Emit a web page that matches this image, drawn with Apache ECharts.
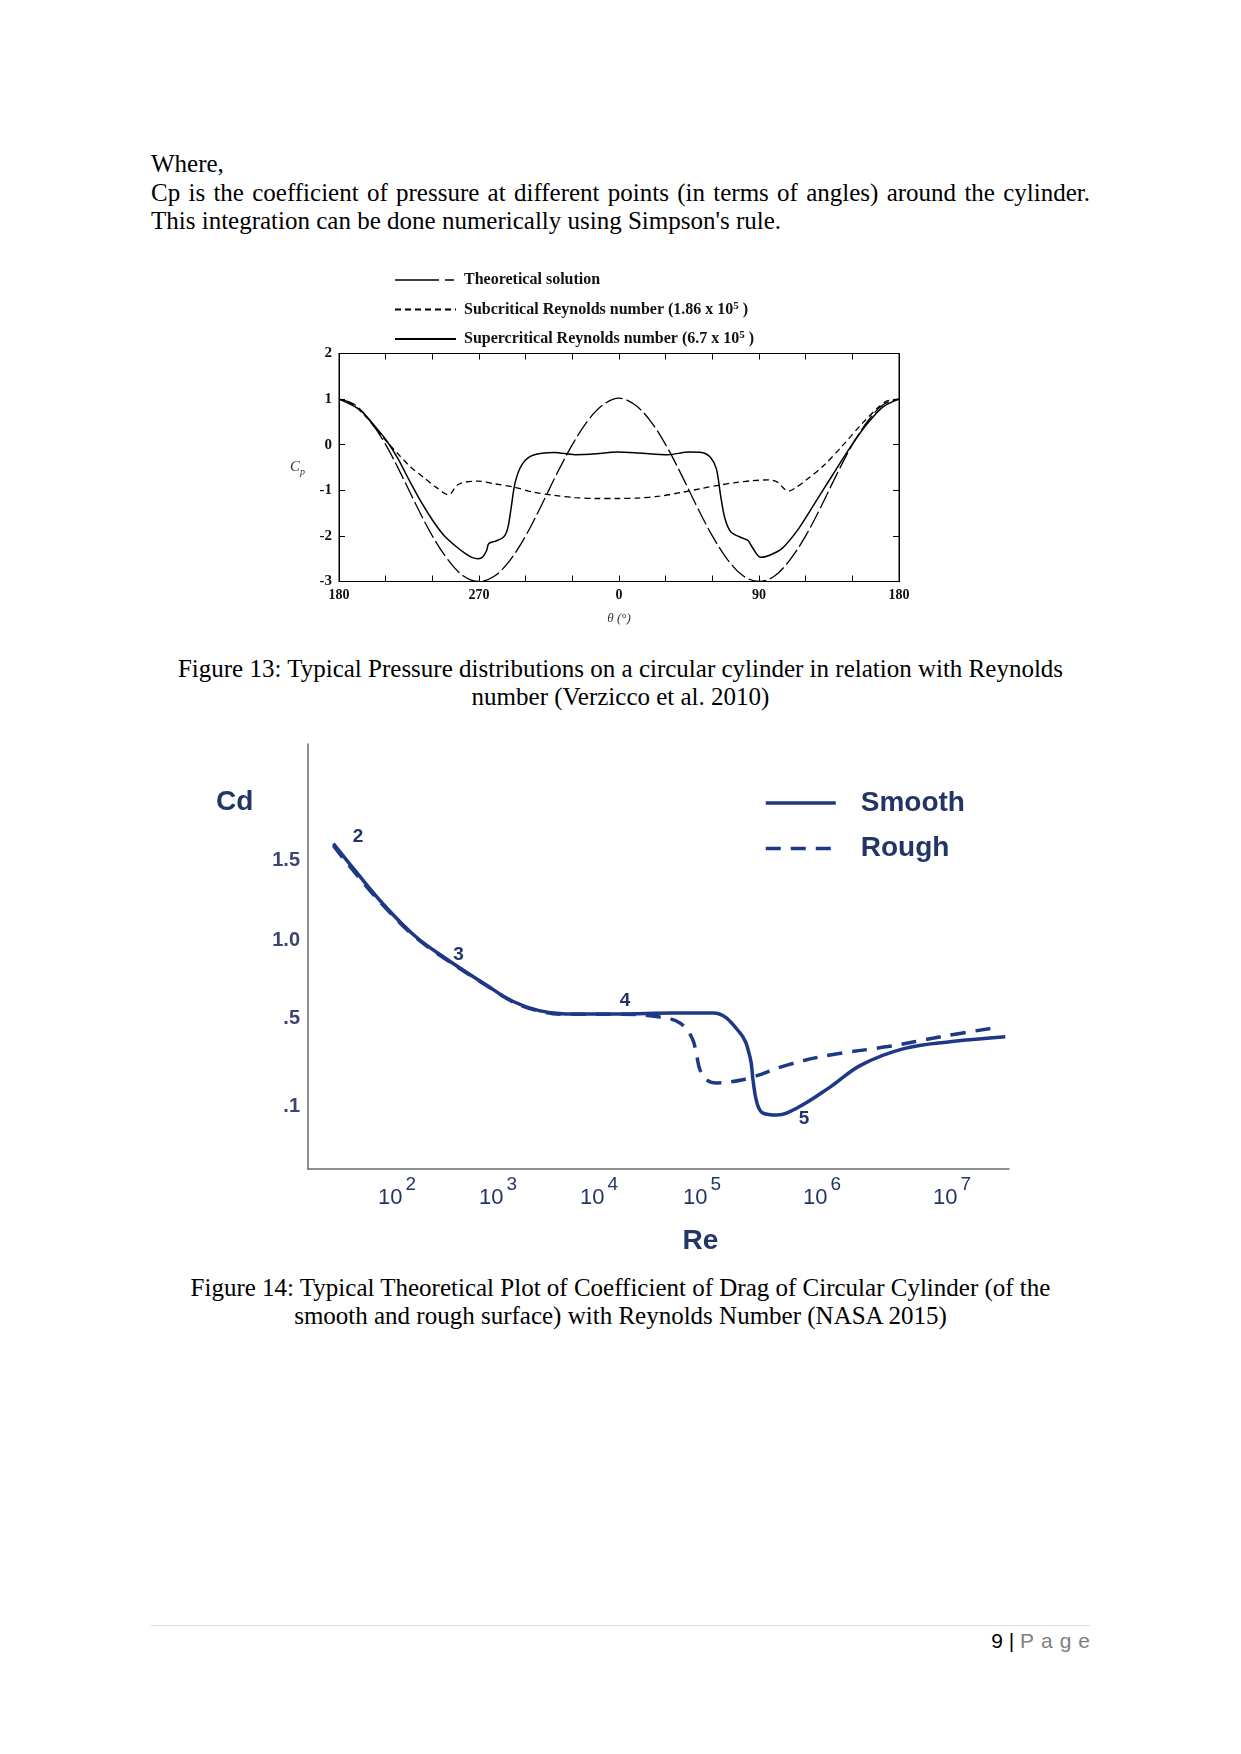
<!DOCTYPE html>
<html><head><meta charset="utf-8">
<script src="https://cdn.jsdelivr.net/npm/echarts@6/dist/echarts.min.js"></script>
<style>
html,body{margin:0;padding:0;background:#fff;}
body{width:1241px;height:1754px;position:relative;overflow:hidden;}
.t{position:absolute;font-family:"Liberation Serif","Times New Roman",serif;font-size:25px;color:#000;white-space:nowrap;line-height:28px;}
.j{left:151px;width:939px;text-align:justify;text-align-last:justify;}
.c{left:151px;width:939px;text-align:center;}
#c1{position:absolute;left:0;top:250px;width:1241px;height:390px;}
#c2{position:absolute;left:0;top:720px;width:1241px;height:550px;}
.foot{position:absolute;left:151px;width:939px;top:1625px;border-top:1px solid #dcdcdc;}
.pg{position:absolute;right:151px;top:1628px;font-family:"Liberation Sans",Arial,sans-serif;font-size:21px;line-height:26px;color:#000;white-space:nowrap;}
</style></head><body>
<div class="t" style="left:151px;top:150px">Where,</div>
<div class="t j" style="top:179px">Cp is the coefficient of pressure at different points (in terms of angles) around the cylinder.</div>
<div class="t" style="left:151px;top:207px">This integration can be done numerically using Simpson's rule.</div>
<div id="c1"></div>
<div class="t c" style="top:655px">Figure 13: Typical Pressure distributions on a circular cylinder in relation with Reynolds</div>
<div class="t c" style="top:683px">number (Verzicco et al. 2010)</div>
<div id="c2"></div>
<div class="t c" style="top:1274px">Figure 14: Typical Theoretical Plot of Coefficient of Drag of Circular Cylinder (of the</div>
<div class="t c" style="top:1302px">smooth and rough surface) with Reynolds Number (NASA 2015)</div>
<div class="foot"></div>
<div class="pg">9 | <span style="color:#7f7f7f;letter-spacing:7px;margin-right:-7px">Page</span></div>
<script>
// ---------- Figure 13 data (sweep position along axis in degrees: 0 -> theta=180, 90 -> 270, 180 -> 0, 270 -> 90, 360 -> 180)
const thetaTickLabels = ['180', '270', '0', '90', '180'];
const theoAngles = [0,10,20,30,40,50,60,70,80,90,100,110,120,130,140,150,160,170,180,190,200,210,220,230,240,250,260,270,280,290,300,310,320,330,340,350,360];
const theoCp = [1.0,0.88,0.52,0.0,-0.65,-1.35,-2.0,-2.52,-2.88,-3.0,-2.88,-2.53,-2.0,-1.34,-0.64,0.0,0.53,0.88,1.02,0.88,0.53,0.0,-0.65,-1.35,-2.0,-2.53,-2.88,-3.0,-2.88,-2.52,-2.0,-1.35,-0.65,0.0,0.52,0.88,1.0];
const subAngles = [0,8.1,16.3,24.4,29.8,37.9,46.1,54.2,62.3,70.5,75.9,81.3,89.5,100.3,112.5,124.7,138.2,151.8,165.3,178.9,192.4,206,219.6,233.1,244,254.8,265.7,276.5,281.9,286,288.7,292.8,300.9,311.8,324,336.2,347,352.4,360];
const subCp = [1.0,0.9,0.65,0.32,0.1,-0.2,-0.49,-0.71,-0.93,-1.1,-0.89,-0.82,-0.8,-0.86,-0.93,-1.04,-1.11,-1.16,-1.18,-1.18,-1.17,-1.13,-1.05,-0.96,-0.89,-0.83,-0.79,-0.77,-0.82,-0.96,-1.02,-0.96,-0.76,-0.45,-0.01,0.46,0.83,0.96,1.0];
const supAngles = [0,13.6,24.4,31.2,38,44.7,52.9,61,67.8,75.9,81.3,85.4,89.5,92.2,94.9,96.2,100.3,105.7,108.4,110.6,113.3,117.9,124.7,138.3,151.8,165.4,178.9,192.5,211.5,225,233.1,238.6,242.6,245.3,248.1,252.1,260.3,263,265.7,271.1,276.5,284.7,295.5,306.3,317.2,328,338.9,349.7,360];
const supCp = [1.0,0.76,0.35,0.06,-0.31,-0.75,-1.26,-1.7,-2.0,-2.25,-2.39,-2.47,-2.5,-2.47,-2.32,-2.17,-2.12,-2.03,-1.84,-1.4,-0.82,-0.42,-0.23,-0.17,-0.22,-0.2,-0.16,-0.18,-0.22,-0.16,-0.17,-0.27,-0.53,-1.11,-1.62,-1.92,-2.06,-2.1,-2.25,-2.47,-2.43,-2.28,-1.84,-1.26,-0.67,-0.09,0.43,0.83,1.0];
const seriesNames1 = ['Theoretical solution', 'Subcritical Reynolds number (1.86 x 10{sup|5} )', 'Supercritical Reynolds number (6.7 x 10{sup|5} )'];

// ---------- Figure 14 data (Re given as log10 Re)
const reTickExponents = [2, 3, 4, 5, 6, 7];
const cdTickValues = [0.1, 0.5, 1.0, 1.5];
const cdTickLabels = ['.1', '.5', '1.0', '1.5'];
const smoothLogRe = [1.37,1.604,1.881,2.178,2.475,2.876,3.139,3.406,3.673,4.199,4.718,5.092,5.317,5.4,5.425,5.458,5.508,5.625,5.792,6.062,6.3,6.63,7.0,7.41];
const smoothCd = [1.602,1.419,1.2125,1.025,0.885,0.715,0.609,0.547,0.526,0.526,0.532,0.532,0.432,0.323,0.218,0.114,0.068,0.059,0.091,0.186,0.286,0.361,0.393,0.415];
const roughLogRe = [1.37,1.604,1.881,2.178,2.475,2.876,3.139,3.406,3.673,4.199,4.592,4.786,4.903,4.951,4.981,5.042,5.125,5.233,5.425,5.708,6.062,6.505,6.915,7.362];
const roughCd = [1.59,1.405,1.205,1.02,0.88,0.712,0.607,0.545,0.524,0.524,0.506,0.477,0.409,0.323,0.264,0.218,0.205,0.209,0.232,0.286,0.332,0.37,0.415,0.459];
const annLabels = ['2', '3', '4', '5'];
const annLogRe = [1.614, 2.61, 4.252, 5.85];
const annCd = [1.644, 0.905, 0.609, 0.041];

// ---------- layout of the schematic (non-uniform) axes of Figure 14
const RE_TICK_POS = [89, 190, 291, 394, 514, 644];
const CD_TICK_POS = [63, 151, 229, 309];
function piece(v, xs, ys) {
  let i = 0;
  if (v >= xs[xs.length - 1]) i = xs.length - 2;
  else if (v > xs[0]) { while (v > xs[i + 1]) i++; }
  const t = (v - xs[i]) / (xs[i + 1] - xs[i]);
  return ys[i] + t * (ys[i + 1] - ys[i]);
}
const toU = e => piece(e, reTickExponents, RE_TICK_POS);
const toV = c => piece(c, cdTickValues, CD_TICK_POS);
const zip = (a, b) => a.map((x, i) => [x, b[i]]);

const SERIF = '"Liberation Serif","Times New Roman",serif';
const SANS = '"Liberation Sans",Arial,sans-serif';
const NAVY = '#1c3886';
const NAVYT = '#233566';

// ================= Figure 13 =================
const c1 = echarts.init(document.getElementById('c1'));
const ax1 = {type: 'value', min: 0, max: 360, interval: 30,
  axisLine: {show: true, onZero: false, lineStyle: {color: '#000', width: 1}},
  axisTick: {show: true, inside: true, length: 6, lineStyle: {color: '#000'}},
  splitLine: {show: false}};
const ay1 = {type: 'value', min: -3, max: 2, interval: 1,
  axisLine: {show: true, onZero: false, lineStyle: {color: '#000', width: 1}},
  axisTick: {show: true, inside: true, length: 6, lineStyle: {color: '#000'}},
  splitLine: {show: false}};
c1.setOption({
  animation: false,
  color: ['#000', '#000', '#000'],
  grid: {left: 339, top: 103.5, width: 560, height: 228, show: true, borderColor: '#000', borderWidth: 1},
  legend: {
    orient: 'vertical', left: 389, top: 17, itemWidth: 61, itemHeight: 20, itemGap: 12.5,
    itemStyle: {opacity: 0},
    textStyle: {fontFamily: SERIF, fontWeight: 'bold', fontSize: 16, color: '#111', padding: [0, 0, 0, 3],
      rich: {sup: {fontFamily: SERIF, fontWeight: 'bold', fontSize: 11, verticalAlign: 'top', padding: [0, 0, 7, 0]}}},
    data: [
      {name: seriesNames1[0], lineStyle: {type: [44, 6, 9, 200], width: 1.6, color: '#000'}},
      {name: seriesNames1[1]},
      {name: seriesNames1[2]}
    ]
  },
  xAxis: [
    Object.assign({}, ax1, {position: 'bottom',
      name: 'θ (°)', nameLocation: 'middle', nameGap: 31,
      nameTextStyle: {fontFamily: SERIF, fontStyle: 'italic', fontSize: 13, color: '#333'},
      axisLabel: {show: true, margin: 7, fontFamily: SERIF, fontWeight: 'bold', fontSize: 14, color: '#111',
        formatter: v => (v % 90 === 0 ? thetaTickLabels[v / 90] : '')}}),
    Object.assign({}, ax1, {position: 'top', axisLabel: {show: false}})
  ],
  yAxis: [
    Object.assign({}, ay1, {position: 'left',
      name: '{c|C}{p|p}', nameLocation: 'middle', nameRotate: 0, nameGap: 34,
      nameTextStyle: {rich: {c: {fontFamily: SERIF, fontStyle: 'italic', fontSize: 15, color: '#333'},
        p: {fontFamily: SERIF, fontStyle: 'italic', fontSize: 10, color: '#333', verticalAlign: 'bottom', padding: [9, 0, 0, 0]}}},
      axisLabel: {show: true, margin: 7, fontFamily: SERIF, fontWeight: 'bold', fontSize: 15, color: '#111'}}),
    Object.assign({}, ay1, {position: 'right', axisLabel: {show: false}})
  ],
  series: [
    {name: seriesNames1[0], type: 'line', data: zip(theoAngles, theoCp), symbol: 'none', smooth: 0.35,
      itemStyle: {color: '#000'}, lineStyle: {color: '#000', width: 1.3, type: [18, 4]}},
    {name: seriesNames1[1], type: 'line', data: zip(subAngles, subCp), symbol: 'none', smooth: 0.3,
      itemStyle: {color: '#000'}, lineStyle: {color: '#000', width: 1.3, type: [6, 4]}},
    {name: seriesNames1[2], type: 'line', data: zip(supAngles, supCp), symbol: 'none', smooth: 0.3,
      itemStyle: {color: '#000'}, lineStyle: {color: '#000', width: 1.5, type: 'solid'}}
  ]
});

// ================= Figure 14 =================
const c2 = echarts.init(document.getElementById('c2'));
const tol = (v, arr) => arr.findIndex(p => Math.abs(p - v) < 1e-6);
c2.setOption({
  animation: false,
  color: [NAVY, NAVY, NAVY],
  grid: {left: 308, top: 24, width: 701, height: 425},
  title: {text: 'Cd', left: 216, top: 68, padding: 0,
    textStyle: {fontFamily: SANS, fontWeight: 'bold', fontSize: 28, color: NAVYT}},
  legend: {
    orient: 'vertical', left: 759, top: 64, itemWidth: 70, itemHeight: 20, itemGap: 17.5,
    itemStyle: {opacity: 0},
    textStyle: {fontFamily: SANS, fontWeight: 'bold', fontSize: 28, color: NAVYT, padding: [0, 0, 0, 20]},
    data: [
      {name: 'Smooth', lineStyle: {width: 3.5, color: NAVY, type: 'solid'}},
      {name: 'Rough', lineStyle: {width: 3.5, color: NAVY, type: [15, 10]}}
    ]
  },
  xAxis: {type: 'value', min: 0, max: 701, interval: 1,
    name: 'Re', nameLocation: 'middle', nameGap: 58,
    nameTextStyle: {fontFamily: SANS, fontWeight: 'bold', fontSize: 28, color: NAVYT, padding: [0, 0, 0, 84]},
    axisLine: {show: true, onZero: false, lineStyle: {color: '#6a6a6a', width: 1.5}},
    axisTick: {show: false}, splitLine: {show: false},
    axisLabel: {show: true, margin: 6, interval: 0, color: NAVYT,
      formatter: v => { const k = tol(v, RE_TICK_POS); return k >= 0 ? '{b|10}{s|' + reTickExponents[k] + '}' : ''; },
      rich: {b: {fontFamily: SANS, fontSize: 22, fontWeight: 500, color: NAVYT, verticalAlign: 'bottom'},
             s: {fontFamily: SANS, fontSize: 19, fontWeight: 500, color: NAVYT, verticalAlign: 'top', padding: [0, 0, 15, 3]}}}},
  yAxis: {type: 'value', min: 0, max: 425, interval: 1,
    axisLine: {show: true, onZero: false, lineStyle: {color: '#6a6a6a', width: 1.5}},
    axisTick: {show: false}, splitLine: {show: false},
    axisLabel: {show: true, margin: 8, interval: 0, fontFamily: SANS, fontSize: 20, fontWeight: 'bold', color: '#3a4670',
      formatter: v => { const k = tol(v, CD_TICK_POS); return k >= 0 ? cdTickLabels[k] : ''; }}},
  series: [
    {name: 'Smooth', type: 'line', symbol: 'none', smooth: 0.4,
      data: smoothLogRe.map((e, i) => [toU(e), toV(smoothCd[i])]),
      lineStyle: {color: NAVY, width: 3.5, type: 'solid'}, itemStyle: {color: NAVY}},
    {name: 'Rough', type: 'line', symbol: 'none', smooth: 0.4,
      data: roughLogRe.map((e, i) => [toU(e), toV(roughCd[i])]),
      lineStyle: {color: NAVY, width: 3.5, type: [15, 10]}, itemStyle: {color: NAVY}},
    {name: 'annotations', type: 'scatter', symbol: 'circle', symbolSize: 2,
      itemStyle: {color: 'rgba(255,255,255,0)'}, silent: true,
      data: annLabels.map((t, i) => ({name: t, value: [toU(annLogRe[i]), toV(annCd[i])]})),
      label: {show: true, position: 'inside', formatter: p => p.name, opacity: 1,
        fontFamily: SANS, fontSize: 19, fontWeight: 600, color: NAVYT}}
  ]
});
</script>
</body></html>
